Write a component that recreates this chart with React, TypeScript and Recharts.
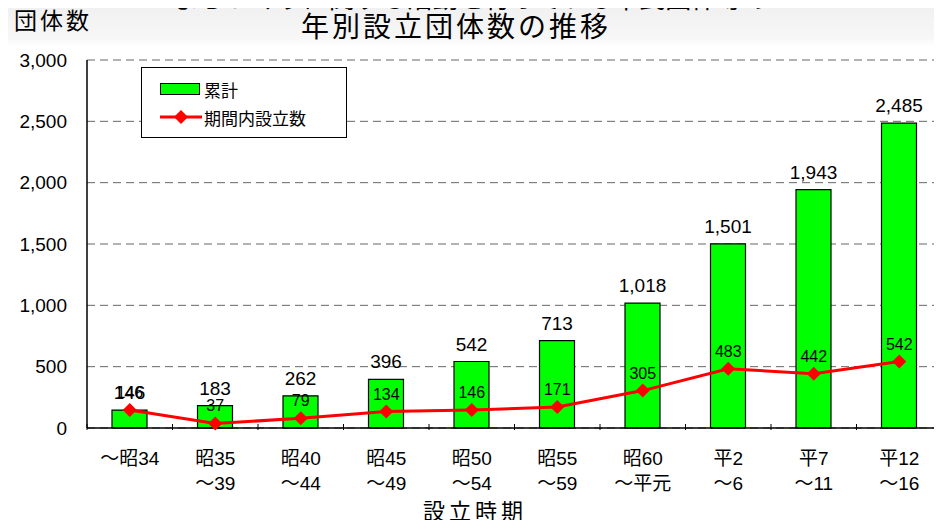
import { ComposedChart, Bar, Line, XAxis, YAxis, CartesianGrid, LabelList } from "recharts";

const periods = ["～昭34", "昭35\n～39", "昭40\n～44", "昭45\n～49", "昭50\n～54", "昭55\n～59", "昭60\n～平元", "平2\n～6", "平7\n～11", "平12\n～16"];
const cumulative = [146, 183, 262, 396, 542, 713, 1018, 1501, 1943, 2485];
const founded = [146, 37, 79, 134, 146, 171, 305, 483, 442, 542];
const yTicks = [0, 500, 1000, 1500, 2000, 2500, 3000];

const W = 942;
const H = 528;
const LEFT = 87;
const BAND = (W - LEFT) / periods.length;
const FONT = "'Liberation Sans', 'Noto Sans CJK JP', sans-serif";

const data = periods.map((p, i) => ({ p, cum: cumulative[i], n: founded[i] }));

function PeriodTick(props: any) {
  const { x, y, payload } = props;
  const lines = String(payload.value).split("\n");
  const axisY = y;
  return (
    <g>
      <line x1={x - BAND / 2} x2={x - BAND / 2} y1={axisY} y2={axisY - 6} stroke="#000" strokeWidth={1} />
      <text x={x} y={y + 35} textAnchor="middle" fontSize={19} fill="#000" fontFamily={FONT}>
        {lines.map((l, i) => (
          <tspan key={i} x={x} dy={i === 0 ? 0 : 25}>{l}</tspan>
        ))}
      </text>
    </g>
  );
}

function Diamond(props: any) {
  const { cx, cy } = props;
  const r = 7;
  return <polygon points={`${cx},${cy - r} ${cx + r},${cy} ${cx},${cy + r} ${cx - r},${cy}`} fill="#ff0000" />;
}

function LegendBox() {
  return (
    <div style={{ position: "absolute", left: 141, top: 67, border: "1px solid #000", background: "#fff", width: 206, height: 71, boxSizing: "border-box", fontFamily: FONT, fontSize: 17, padding: "8px 0 0 18px" }}>
      <div style={{ display: "flex", alignItems: "center", height: 26 }}>
        <span style={{ display: "inline-block", width: 38, height: 10, background: "#00ff00", border: "1px solid #000", marginRight: 4 }} />
        累計
      </div>
      <div style={{ display: "flex", alignItems: "center", height: 30 }}>
        <svg width={42} height={14} style={{ marginRight: 2 }}>
          <line x1={0} x2={42} y1={7} y2={7} stroke="#ff0000" strokeWidth={3} />
          <polygon points="21,0 28,7 21,14 14,7" fill="#ff0000" />
        </svg>
        期間内設立数
      </div>
    </div>
  );
}

export default function App() {
  return (
    <div style={{ position: "relative", width: W, height: H, margin: -8, overflow: "hidden", background: "linear-gradient(#efefef 0px, #f7f7f7 38px, #ffffff 46px)", fontFamily: FONT }}>
      <div style={{ position: "absolute", left: 0, width: W, top: -22, textAlign: "center", fontSize: 26, fontFamily: FONT, color: "#000" }}>
        まちづくりに関する活動を行っている市民団体等の
      </div>
      <div style={{ position: "absolute", left: 14, top: 10, fontSize: 23, letterSpacing: 3, lineHeight: 1 }}>団体数</div>
      <div style={{ position: "absolute", left: 0, width: 912, top: 14, textAlign: "center", fontSize: 28, letterSpacing: 3, lineHeight: 1 }}>年別設立団体数の推移</div>
      <div style={{ position: "absolute", left: 0, width: 950, top: 501, textAlign: "center", fontSize: 22, letterSpacing: 4, lineHeight: 1 }}>設立時期</div>
      <div style={{ position: "absolute", left: 0, top: 0 }}>
        <ComposedChart width={W} height={H} data={data} margin={{ top: 60, right: 0, bottom: 40, left: 0 }} barCategoryGap="30%">
          <CartesianGrid vertical={false} stroke="#666" strokeDasharray="8 5" />
          <XAxis dataKey="p" height={60} interval={0} tick={<PeriodTick />} tickLine={false} tickSize={0} axisLine={{ stroke: "#000", strokeWidth: 1.5 }} />
          <YAxis width={LEFT} domain={[0, 3000]} ticks={yTicks} tickLine={false} axisLine={{ stroke: "#000", strokeWidth: 1.5 }} tickFormatter={(v: number) => v.toLocaleString("en-US")} tick={{ fontSize: 19, fill: "#000", fontFamily: FONT }} tickMargin={14} />
          <Bar dataKey="cum" name="累計" fill="#00ff00" stroke="#000" strokeWidth={1.2} barSize={35} isAnimationActive={false}>
            <LabelList dataKey="cum" position="top" offset={11} fontSize={19} fill="#000" fontFamily={FONT} formatter={(v: any) => Number(v).toLocaleString("en-US")} />
          </Bar>
          <Line dataKey="n" name="期間内設立数" stroke="#ff0000" strokeWidth={3} dot={<Diamond />} activeDot={false} isAnimationActive={false}>
            <LabelList dataKey="n" content={(p: any) => (
              <text x={p.x} y={p.y - 12} textAnchor="middle" fontSize={16} fill="#000" fontFamily={FONT}>{p.value}</text>
            )} />
          </Line>
        </ComposedChart>
      </div>
      <LegendBox />
    </div>
  );
}
